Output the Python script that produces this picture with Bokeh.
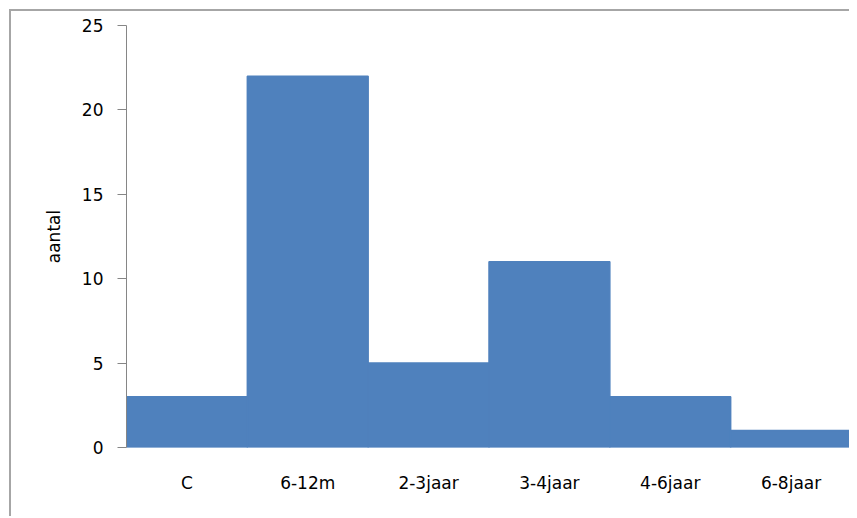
from bokeh.plotting import figure
from bokeh.models import FactorRange, Range1d, SingleIntervalTicker, ColumnDataSource
from bokeh.embed import file_html
from bokeh.resources import INLINE

categories = ["C", "6-12m", "2-3jaar", "3-4jaar", "4-6jaar", "6-8jaar"]
aantal = [3, 22, 5, 11, 3, 1]
y_label = "aantal"

src = ColumnDataSource(dict(cat=categories, val=aantal))

p = figure(
    x_range=FactorRange(factors=categories),
    y_range=Range1d(0, 25),
    width=840, height=507,
    output_backend="svg", toolbar_location=None,
    min_border_left=115, min_border_right=0,
    min_border_top=14, min_border_bottom=71,
)
p.styles = {
    "margin-left": "9px", "margin-top": "9px",
    "border-top": "2px solid #a6a6a6", "border-left": "2px solid #a6a6a6",
}

BLUE = "#4F81BD"
p.vbar(x="cat", top="val", width=1.0, source=src,
       fill_color=BLUE, line_color=BLUE, line_width=1.5)

FONT = "DejaVu Sans"
FS = "17px"
p.outline_line_color = None
p.xgrid.grid_line_color = None
p.ygrid.grid_line_color = None

p.yaxis.ticker = SingleIntervalTicker(interval=5)
p.yaxis.axis_label = y_label
p.yaxis.axis_label_text_font = FONT
p.yaxis.axis_label_text_font_size = FS
p.yaxis.axis_label_text_font_style = "normal"
p.yaxis.axis_label_text_color = "#000000"
p.yaxis.axis_label_standoff = 15
p.yaxis.major_label_text_font = FONT
p.yaxis.major_label_text_font_size = FS
p.yaxis.major_label_text_color = "#000000"
p.yaxis.major_label_standoff = 14
p.yaxis.axis_line_color = "#868686"
p.yaxis.major_tick_line_color = "#868686"
p.yaxis.major_tick_out = 9
p.yaxis.major_tick_in = 0
p.yaxis.minor_tick_line_color = None

p.xaxis.axis_line_color = None
p.xaxis.major_tick_line_color = None
p.xaxis.major_label_text_font = FONT
p.xaxis.major_label_text_font_size = FS
p.xaxis.major_label_text_color = "#000000"
p.xaxis.major_label_standoff = 19

open("out.html", "w").write(file_html(p, INLINE))
